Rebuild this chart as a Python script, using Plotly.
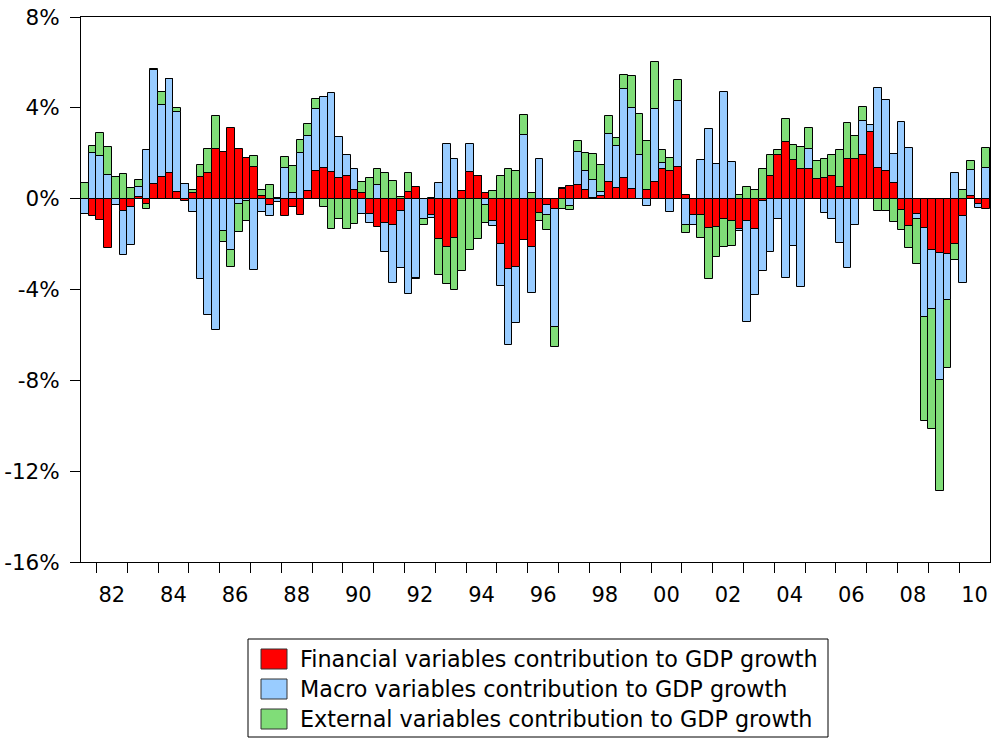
import plotly.graph_objects as go

# ---------------- data (quarterly, 1981Q3 .. 2010Q4), % points ----------------
START_YEAR = 1981
START_Q = 3

financial = [
    0.00, -0.78, -0.94, -2.19, -0.02, -0.53, -0.35, 0.09, -0.24, 0.65,
    0.94, 1.13, 0.29, -0.10, 0.25, 0.94, 1.15, 2.19, 2.07, 3.12,
    2.18, 1.78, 1.41, 0.10, -0.29, 0.00, -0.78, -0.35, -0.74, 0.34,
    1.22, 1.34, 1.16, 0.91, 1.01, 0.38, 0.24, -0.69, -1.26, -1.09,
    -1.16, -0.53, 0.31, 0.53, 0.00, -0.74, -1.78, -2.15, -1.75, 0.32,
    1.16, 1.01, 0.25, -1.00, -1.99, -3.09, -3.03, -1.82, -2.13, -0.65,
    -0.29, -0.46, 0.44, 0.54, 0.60, 0.40, 0.02, 0.10, 0.74, 0.46,
    0.90, 0.43, 0.00, 0.38, 0.74, 1.29, 1.21, 1.41, 0.15, -0.74,
    -0.74, -1.28, -1.24, -0.88, -0.97, -1.32, -1.00, -1.34, -0.10, 1.00,
    1.93, 2.50, 1.71, 1.29, 1.31, 0.87, 0.93, 1.01, 0.50, 1.74,
    1.74, 1.93, 2.94, 1.35, 1.21, 0.69, -0.51, -1.22, -0.69, -1.31,
    -2.24, -2.41, -2.44, -2.01, -0.76, 0.10, -0.24, -0.44,
]
macro = [
    -0.69, 1.99, 1.90, 1.03, -0.25, -1.93, -1.69, 0.41, 2.13, 5.00,
    3.18, 4.13, 3.53, 0.66, -0.59, -3.54, -5.12, -5.78, -1.43, -2.24,
    -0.25, -0.09, -3.16, -0.57, -0.49, -0.16, 1.37, 0.24, 2.00, 2.41,
    2.72, 3.12, 3.49, 1.79, 0.90, 0.91, -0.69, -0.40, 0.60, -1.24,
    -2.54, -2.54, -4.21, -3.49, -0.88, -0.09, 0.68, 2.40, 1.74, 0.03,
    1.24, 0.00, -0.26, -0.21, -1.84, -3.35, -2.46, 2.79, -2.04, 1.76,
    -0.41, -5.21, 0.03, -0.31, 1.44, 0.81, 0.80, 0.18, 2.10, 1.88,
    3.94, 3.56, 1.93, -0.32, 3.23, 0.26, -0.59, 2.88, -1.16, -0.43,
    1.69, 3.07, 1.54, 4.71, 1.62, -0.12, -4.43, -2.88, -3.07, -2.35,
    -0.91, -3.51, -2.09, -3.88, 0.88, 0.00, -0.62, -0.88, -1.94, -3.04,
    -1.15, 1.51, 0.31, 3.51, 3.13, 1.26, 3.37, 2.22, -0.22, -3.88,
    -2.60, -5.56, -2.04, 1.12, -2.94, 1.15, -0.19, 1.34,
]
external = [
    0.69, 0.34, 1.01, 1.25, 0.94, 1.09, 0.46, 0.31, -0.22, 0.04,
    0.57, 0.00, 0.16, 0.00, 0.15, 0.53, 1.03, 1.46, -0.50, -0.76,
    -1.21, -0.88, 0.47, 0.26, 0.60, 0.04, 0.46, 1.18, 0.60, 0.53,
    0.44, -0.38, -1.32, -0.91, -1.32, -1.10, 0.51, 0.93, 0.69, 1.12,
    0.79, 0.07, 0.82, -0.03, -0.28, 0.04, -1.59, -1.59, -2.28, -3.18,
    -2.28, -1.76, -0.81, 0.32, 1.01, 1.29, 1.21, 0.88, 0.25, -0.35,
    -0.68, -0.88, -0.44, -0.21, 0.50, 0.79, 1.13, 1.19, 0.79, 0.34,
    0.59, 1.41, 1.82, 2.15, 2.04, 0.59, 0.57, 0.93, -0.35, 0.00,
    -1.00, -2.25, -1.35, -1.26, -1.13, 0.16, 0.50, 0.37, 1.32, 0.93,
    0.21, 0.99, 0.65, 1.00, 0.91, 0.81, 0.81, 0.90, 1.63, 1.59,
    1.04, 0.59, 0.00, -0.56, -0.56, -1.03, -0.85, -0.94, -1.96, -4.59,
    -5.29, -4.90, -2.96, -0.71, 0.38, 0.40, 0.00, 0.87,
]

series_names = [
    "Financial variables contribution to GDP growth",
    "Macro variables contribution to GDP growth",
    "External variables contribution to GDP growth",
]
series_colors = ["#FF0000", "#99CCFF", "#80DD78"]

y_tick_values = [-16, -12, -8, -4, 0, 4, 8]
y_tick_labels = ["-16%", "-12%", "-8%", "-4%", "0%", "4%", "8%"]
x_label_years = list(range(1982, 2011, 2))
x_tick_labels = ["%02d" % (y % 100) for y in x_label_years]

# quarter categories -> numeric position (years, centre of quarter)
n = len(financial)
quarters = []
yy, qq = START_YEAR, START_Q
for _ in range(n):
    quarters.append((yy, qq))
    qq += 1
    if qq > 4:
        qq = 1
        yy += 1
xpos = [y + (q - 1) * 0.25 + 0.125 for (y, q) in quarters]
x_start = START_YEAR + (START_Q - 1) * 0.25
x_end = quarters[-1][0] + quarters[-1][1] * 0.25

# ---------------- figure ----------------
FONT = "DejaVu Sans"
W, H = 992, 738
ML, MR, MT, MB = 81, 2, 17, 176

fig = go.Figure()
for vals, name, col in zip([financial, macro, external], series_names, series_colors):
    fig.add_trace(go.Bar(
        x=xpos, y=vals, name=name, width=0.25,
        marker=dict(color=col, line=dict(color="black", width=1)),
        showlegend=False,
    ))

fig.update_layout(
    width=W, height=H,
    margin=dict(l=ML, r=MR, t=MT, b=MB, autoexpand=False),
    barmode="relative", bargap=0,
    paper_bgcolor="white", plot_bgcolor="white",
    font=dict(family=FONT, size=21, color="black"),
)
fig.update_xaxes(
    range=[x_start, x_end], automargin=False,
    showline=True, linecolor="black", linewidth=1, mirror=True,
    showgrid=False, zeroline=False,
    tickmode="array",
    tickvals=[y + 0.5 for y in x_label_years],
    ticktext=x_tick_labels,
    ticks="outside", ticklen=0, tickcolor="black",
    ticklabelstandoff=14,
    minor=dict(tickmode="array", tickvals=list(range(1982, 2011)),
               ticks="outside", ticklen=10, tickcolor="black", tickwidth=1,
               showgrid=False),
    tickfont=dict(family=FONT, size=21, color="black"),
)
fig.update_yaxes(
    range=[-16, 8], automargin=False,
    showline=True, linecolor="black", linewidth=1, mirror=True,
    showgrid=False,
    zeroline=True, zerolinecolor="black", zerolinewidth=1,
    tickmode="array", tickvals=y_tick_values, ticktext=y_tick_labels,
    ticks="outside", ticklen=10, tickcolor="black",
    ticklabelstandoff=6,
    tickfont=dict(family=FONT, size=21.5, color="black"),
)

# ---------------- custom legend (pixel layout -> paper coords) ----------------
PW = W - ML - MR
PH = H - MT - MB


def px_x(v):
    return (v - ML) / PW


def px_y(v):
    return (H - MB - v) / PH


shapes = [dict(type="rect", xref="paper", yref="paper",
               x0=px_x(248), x1=px_x(828), y0=px_y(737), y1=px_y(639),
               line=dict(color="black", width=1), fillcolor="white", layer="above")]
annotations = []
row_centers = [659, 689, 719]
for name, col, cy in zip(series_names, series_colors, row_centers):
    shapes.append(dict(type="rect", xref="paper", yref="paper",
                       x0=px_x(261), x1=px_x(287), y0=px_y(cy + 10), y1=px_y(cy - 10),
                       line=dict(color="#333333", width=1), fillcolor=col, layer="above"))
    annotations.append(dict(xref="paper", yref="paper", x=px_x(298), y=px_y(cy),
                            xanchor="left", yanchor="middle", showarrow=False,
                            text=name, font=dict(family=FONT, size=22.3, color="black")))
fig.update_layout(shapes=shapes, annotations=annotations)

fig.write_html(
    "out.html",
    config={"displayModeBar": False},
    post_script="document.body.style.margin='0';document.body.style.overflow='hidden';",
)
